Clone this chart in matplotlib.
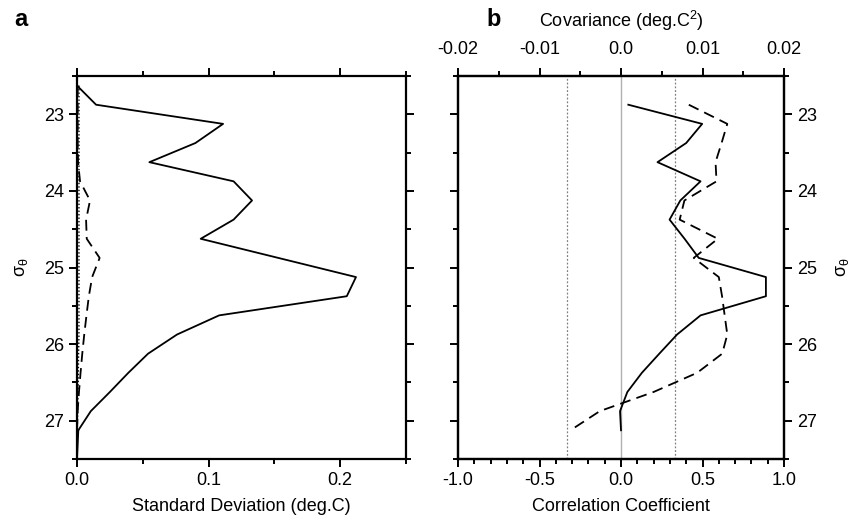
import matplotlib.pyplot as plt
import numpy as np
from matplotlib.ticker import MultipleLocator, FormatStrFormatter

plt.rcParams['font.family'] = ['Liberation Sans', 'DejaVu Sans']
plt.rcParams['mathtext.default'] = 'regular'

# density levels (sigma-theta)
sigma = [22.625, 22.875, 23.125, 23.375, 23.625, 23.875, 24.125, 24.375,
         24.625, 24.875, 25.125, 25.375, 25.625, 25.875, 26.125, 26.375,
         26.625, 26.875, 27.125]

# panel a: standard deviation (deg.C)
std_solid = [0.0, 0.0145, 0.111, 0.090, 0.055, 0.119, 0.133, 0.119,
             0.094, 0.153, 0.212, 0.205, 0.108, 0.076, 0.054, 0.039,
             0.025, 0.0105, 0.001]
std_dashed = [0.0005, 0.0005, 0.0005, 0.0005, 0.0008, 0.0023, 0.0099, 0.0069,
              0.0074, 0.0172, 0.0115, 0.009, 0.0072, 0.0055, 0.004, 0.0027,
              0.0015, 0.0005, 0.0]
std_dotted = [0.0015, 0.0015, 0.0015, 0.0015, 0.0015, 0.0015, 0.0015, 0.0015,
              0.0015, 0.0015, 0.0015, 0.0015, 0.0015, 0.0015, 0.0012, 0.001,
              0.0008, 0.0005, 0.0002]
sigma_tail = [27.125, 27.5]
std_tail = [0.001, 0.0]

# panel b: correlation coefficient (starts at 22.875)
sigma_b = sigma[1:]
corr_solid = [0.045, 0.498, 0.40, 0.224, 0.488, 0.364, 0.298, 0.39,
              0.477, 0.889, 0.889, 0.488, 0.344, 0.235, 0.128, 0.039,
              -0.006, 0.0]
corr_dashed = [0.416, 0.652, 0.617, 0.58, 0.586, 0.389, 0.36, 0.594,
               0.446, 0.60, 0.62, 0.636, 0.652, 0.621, 0.467, 0.2,
               -0.13, -0.31]
signif = 0.33

fs = 13
dash = (0, (6, 3.5))

fig = plt.figure(figsize=(8.56, 5.21), dpi=100)
ax1 = fig.add_axes([77/856, 62/521, 329/856, 383/521])
ax2 = fig.add_axes([458/856, 62/521, 326/856, 383/521])

for ax in (ax1, ax2):
    ax.set_ylim(27.5, 22.5)
    ax.yaxis.set_major_locator(MultipleLocator(1))
    ax.yaxis.set_minor_locator(MultipleLocator(0.5))
    for s in ax.spines.values():
        s.set_linewidth(1.6)
    ax.tick_params(which='both', direction='out', width=1.4, labelsize=fs,
                   top=True, right=True)
    ax.tick_params(which='major', length=6)
    ax.tick_params(which='minor', length=3.5)

# panel a
ax1.plot(std_solid, sigma, color='k', lw=1.3)
ax1.plot(std_tail, sigma_tail, color='k', lw=1.3)
ax1.plot(std_dashed, sigma, color='k', lw=1.3, ls=dash)
ax1.plot(std_dotted, sigma, color='k', lw=1.0, ls=(0, (1, 1.5)))
ax1.set_xlim(0, 0.25)
ax1.xaxis.set_major_locator(MultipleLocator(0.1))
ax1.xaxis.set_minor_locator(MultipleLocator(0.05))
ax1.xaxis.set_major_formatter(FormatStrFormatter('%.1f'))
ax1.tick_params(labelright=False, labeltop=False)
ax1.set_xlabel('Standard Deviation (deg.C)', fontsize=fs, labelpad=6)
ax1.set_ylabel(r'$\sigma_{\theta}$', fontsize=fs, labelpad=10)

# panel b
ax2.axvline(0, color='#b0b0b0', lw=1.0)
for v in (-signif, signif):
    ax2.axvline(v, color='#808080', lw=0.9, ls=(0, (1.5, 1.5)))
ax2.plot(corr_solid, sigma_b, color='k', lw=1.3)
ax2.plot(corr_dashed, sigma_b, color='k', lw=1.3, ls=dash)
ax2.set_xlim(-1, 1)
ax2.xaxis.set_major_locator(MultipleLocator(0.5))
ax2.xaxis.set_minor_locator(MultipleLocator(0.1))
ax2.xaxis.set_major_formatter(FormatStrFormatter('%.1f'))
ax2.tick_params(labelleft=False, labelright=True, top=False)
ax2.set_xlabel('Correlation Coefficient', fontsize=fs, labelpad=6)
ax2.yaxis.set_label_position('right')
ax2.set_ylabel(r'$\sigma_{\theta}$', fontsize=fs, labelpad=12, rotation=90)

# covariance axis on top
ax3 = ax2.twiny()
ax3.set_xlim(-0.02, 0.02)
ax3.xaxis.set_minor_locator(MultipleLocator(0.005))
ax3.set_xticks([-0.02, -0.01, 0.0, 0.01, 0.02])
ax3.set_xticklabels(['-0.02', '-0.01', '0.0', '0.01', '0.02'])
ax3.tick_params(which='both', direction='out', width=1.4, labelsize=fs, pad=7)
ax3.tick_params(which='major', length=6)
ax3.tick_params(which='minor', length=3.5)
ax3.set_xlabel(r'Covariance (deg.C$^2$)', fontsize=fs, labelpad=10)
for s in ax3.spines.values():
    s.set_linewidth(1.6)

fig.text(14/856, 1 - 19/521, 'a', fontsize=17, fontweight='bold', va='center')
fig.text(486/856, 1 - 19/521, 'b', fontsize=17, fontweight='bold', va='center')

fig.savefig('out.png', dpi=100)
